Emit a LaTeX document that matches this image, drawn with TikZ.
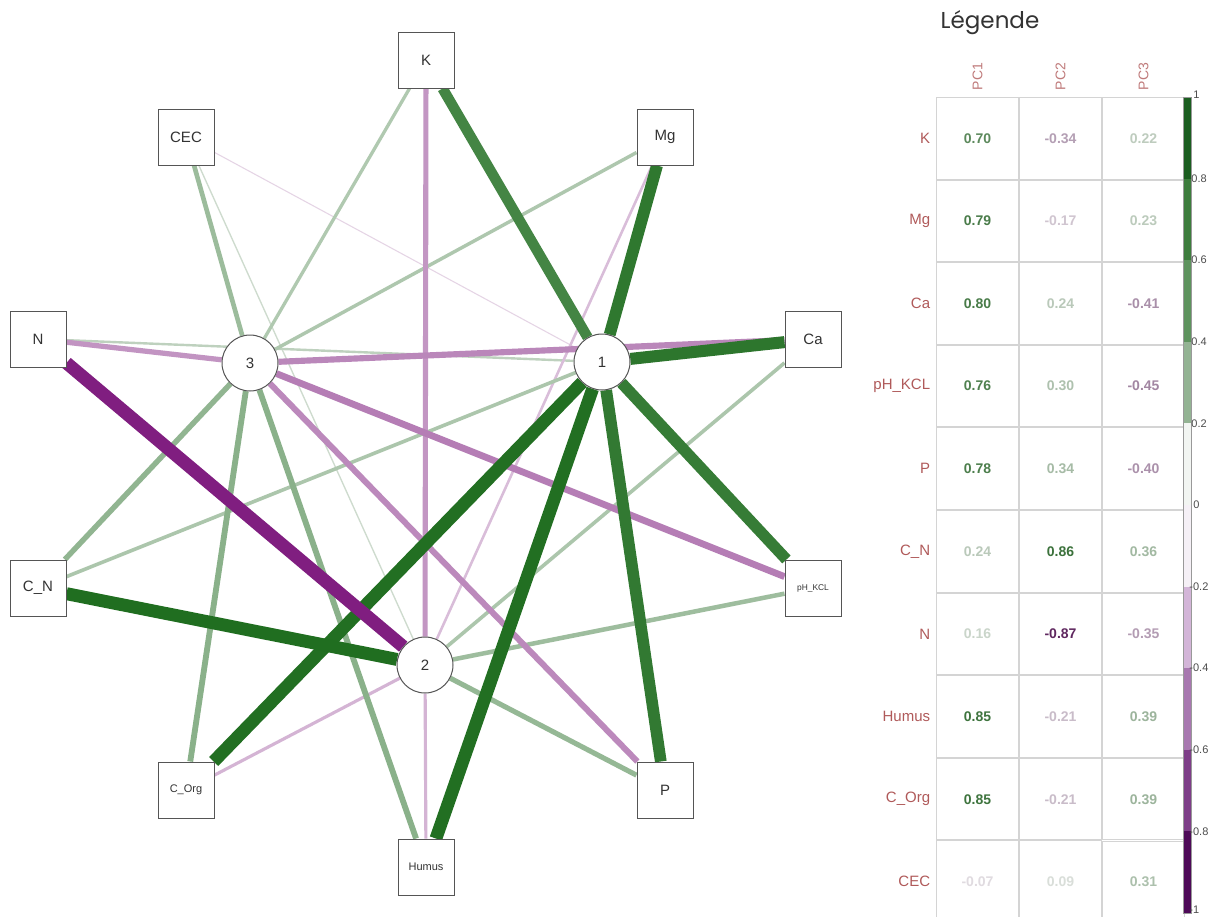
\documentclass[tikz,border=0pt]{standalone}
\usepackage{fontspec}
\setmainfont{Liberation Sans}
\newfontfamily\titlefont{Poppins}
\usepackage{xcolor}
\usepackage{tikz}
\usetikzlibrary{matrix,positioning,backgrounds}

\definecolor{pcgreen}{HTML}{005A00}
\definecolor{pcpurple}{HTML}{700070}
\definecolor{pgfade}{HTML}{E2E8E2}
\definecolor{ppfade}{HTML}{EEE4EE}
\definecolor{numgreen}{HTML}{1F5F1F}
\definecolor{numpurple}{HTML}{4A0A4A}
\definecolor{numfade}{HTML}{EBEBEB}
\definecolor{labred}{HTML}{B05A5A}
\definecolor{gridgrey}{HTML}{D4D4D4}
\definecolor{boxgrey}{HTML}{555555}

\tikzset{
	varnode/.style={draw=boxgrey, fill=white, line width=0.5pt, minimum size=28pt, inner sep=0pt, text=black!80, font=\fontsize{7.5}{9}\selectfont},
	pcnode/.style={varnode, circle},
	posload/.style={draw=pcgreen!#1!pgfade, line width=0.075pt*#1},
	negload/.style={draw=pcpurple!#1!ppfade, line width=0.075pt*#1},
	cell/.style={draw=gridgrey, line width=0.5pt, minimum width=41pt, minimum height=40.8pt, inner sep=0pt, outer sep=0pt, font=\bfseries\fontsize{7}{8}\selectfont},
	vp/.style={text=numgreen!#1!numfade},
	vn/.style={text=numpurple!#1!numfade},
	rowlab/.style={text=labred, inner sep=0pt, font=\fontsize{7.5}{9}\selectfont},
	colhead/.style={text=labred!80, inner sep=0pt, rotate=90, anchor=west, font=\fontsize{7}{8}\selectfont},
	tick/.style={text=black!70, inner sep=0pt, anchor=west, font=\fontsize{5.5}{6}\selectfont}
}

\begin{document}
\begin{tikzpicture}[x=0.5pt, y=-0.5pt]
	\useasboundingbox (0,0) rectangle (1215,916);

	% variables and components
	\node[varnode] (K) at (426,60) {K};
	\node[varnode] (CEC) at (186,137) {CEC};
	\node[varnode] (Mg) at (665,137) {Mg};
	\node[varnode] (N) at (38,339) {N};
	\node[varnode] (Ca) at (813,339) {Ca};
	\node[varnode] (CN) at (38,588) {C\_N};
	\node[varnode, font=\fontsize{4.2}{5}\selectfont] (pH) at (813,588) {pH\_KCL};
	\node[varnode, font=\fontsize{5.5}{6}\selectfont] (COrg) at (186,790) {C\_Org};
	\node[varnode] (P) at (665,790) {P};
	\node[varnode, font=\fontsize{5.5}{6}\selectfont] (Hum) at (426,867) {Humus};
	\node[pcnode] (pc3) at (250,363) {3};
	\node[pcnode] (pc1) at (602,362) {1};
	\node[pcnode] (pc2) at (425,665) {2};

	\begin{pgfonlayer}{background}
		\fill[white] (0,0) rectangle (1215,916);
		\path
		(CEC) edge [negload=7] (pc1)
		(CEC) edge [posload=9] (pc2)
		(N) edge [posload=16] (pc1)
		(Mg) edge [negload=17] (pc2)
		(Hum) edge [negload=21] (pc2)
		(COrg) edge [negload=21] (pc2)
		(K) edge [posload=22] (pc3)
		(Mg) edge [posload=23] (pc3)
		(Ca) edge [posload=24] (pc2)
		(CN) edge [posload=24] (pc1)
		(pH) edge [posload=30] (pc2)
		(CEC) edge [posload=31] (pc3)
		(K) edge [negload=34] (pc2)
		(P) edge [posload=34] (pc2)
		(N) edge [negload=35] (pc3)
		(CN) edge [posload=36] (pc3)
		(Hum) edge [posload=39] (pc3)
		(COrg) edge [posload=39] (pc3)
		(P) edge [negload=40] (pc3)
		(Ca) edge [negload=41] (pc3)
		(pH) edge [negload=45] (pc3)
		(K) edge [posload=70] (pc1)
		(pH) edge [posload=76] (pc1)
		(P) edge [posload=78] (pc1)
		(Mg) edge [posload=79] (pc1)
		(Ca) edge [posload=80] (pc1)
		(Hum) edge [posload=85] (pc1)
		(COrg) edge [posload=85] (pc1)
		(CN) edge [posload=86] (pc2)
		(N) edge [negload=87] (pc2);
	\end{pgfonlayer}

	% legend
	\node[text=black!80, font=\titlefont\fontsize{11.5}{13}\selectfont] (title) at (990,23) {Légende};
	\matrix (m) [matrix of nodes, nodes={cell}, row sep=0pt, column sep=0pt, inner sep=0pt, outer sep=0pt, anchor=north west] at (936,97)
	{
		|[vp=70]| 0.70 & |[vn=34]| -0.34 & |[vp=22]| 0.22 \\
		|[vp=79]| 0.79 & |[vn=17]| -0.17 & |[vp=23]| 0.23 \\
		|[vp=80]| 0.80 & |[vp=24]| 0.24 & |[vn=41]| -0.41 \\
		|[vp=76]| 0.76 & |[vp=30]| 0.30 & |[vn=45]| -0.45 \\
		|[vp=78]| 0.78 & |[vp=34]| 0.34 & |[vn=40]| -0.40 \\
		|[vp=24]| 0.24 & |[vp=86]| 0.86 & |[vp=36]| 0.36 \\
		|[vp=16]| 0.16 & |[vn=87]| -0.87 & |[vn=35]| -0.35 \\
		|[vp=85]| 0.85 & |[vn=21]| -0.21 & |[vp=39]| 0.39 \\
		|[vp=85]| 0.85 & |[vn=21]| -0.21 & |[vp=39]| 0.39 \\
		|[vn=7]| -0.07 & |[vp=9]| 0.09 & |[vp=31]| 0.31 \\
	};
	\node[rowlab, left=3pt of m-1-1] {K};
	\node[rowlab, left=3pt of m-2-1] {Mg};
	\node[rowlab, left=3pt of m-3-1] {Ca};
	\node[rowlab, left=3pt of m-4-1] {pH\_KCL};
	\node[rowlab, left=3pt of m-5-1] {P};
	\node[rowlab, left=3pt of m-6-1] {C\_N};
	\node[rowlab, left=3pt of m-7-1] {N};
	\node[rowlab, left=3pt of m-8-1] {Humus};
	\node[rowlab, left=3pt of m-9-1] {C\_Org};
	\node[rowlab, left=3pt of m-10-1] {CEC};
	\node[colhead] at ([yshift=3.5pt]m-1-1.north) {PC1};
	\node[colhead] at ([yshift=3.5pt]m-1-2.north) {PC2};
	\node[colhead] at ([yshift=3.5pt]m-1-3.north) {PC3};

	% colour bar
	\fill[fill={rgb,255:red,27;green,94;blue,32}] (1183,97) rectangle (1191,178.6);
	\fill[fill={rgb,255:red,61;green,125;blue,61}] (1183,178.6) rectangle (1191,260.2);
	\fill[fill={rgb,255:red,94;green,147;blue,94}] (1183,260.2) rectangle (1191,341.8);
	\fill[fill={rgb,255:red,147;green,179;blue,147}] (1183,341.8) rectangle (1191,423.4);
	\fill[fill={rgb,255:red,242;green,245;blue,242}] (1183,423.4) rectangle (1191,505);
	\fill[fill={rgb,255:red,245;green,240;blue,246}] (1183,505) rectangle (1191,586.6);
	\fill[fill={rgb,255:red,211;green,181;blue,216}] (1183,586.6) rectangle (1191,668.2);
	\fill[fill={rgb,255:red,168;green,120;blue,176}] (1183,668.2) rectangle (1191,749.8);
	\fill[fill={rgb,255:red,126;green,62;blue,136}] (1183,749.8) rectangle (1191,831.4);
	\fill[fill={rgb,255:red,78;green,10;blue,88}] (1183,831.4) rectangle (1191,913);
	\draw[black!40, line width=0.5pt] (1183,97) rectangle (1191,913);
	\node[tick] at (1193,95) {1};
	\node[tick] at (1191,178.6) {0.8};
	\node[tick] at (1191,260.2) {0.6};
	\node[tick] at (1191,341.8) {0.4};
	\node[tick] at (1191,423.4) {0.2};
	\node[tick] at (1193,505) {0};
	\node[tick] at (1189,586.6) {-0.2};
	\node[tick] at (1189,668.2) {-0.4};
	\node[tick] at (1189,749.8) {-0.6};
	\node[tick] at (1189,831.4) {-0.8};
	\node[tick] at (1189,910) {-1};
\end{tikzpicture}
\end{document}
